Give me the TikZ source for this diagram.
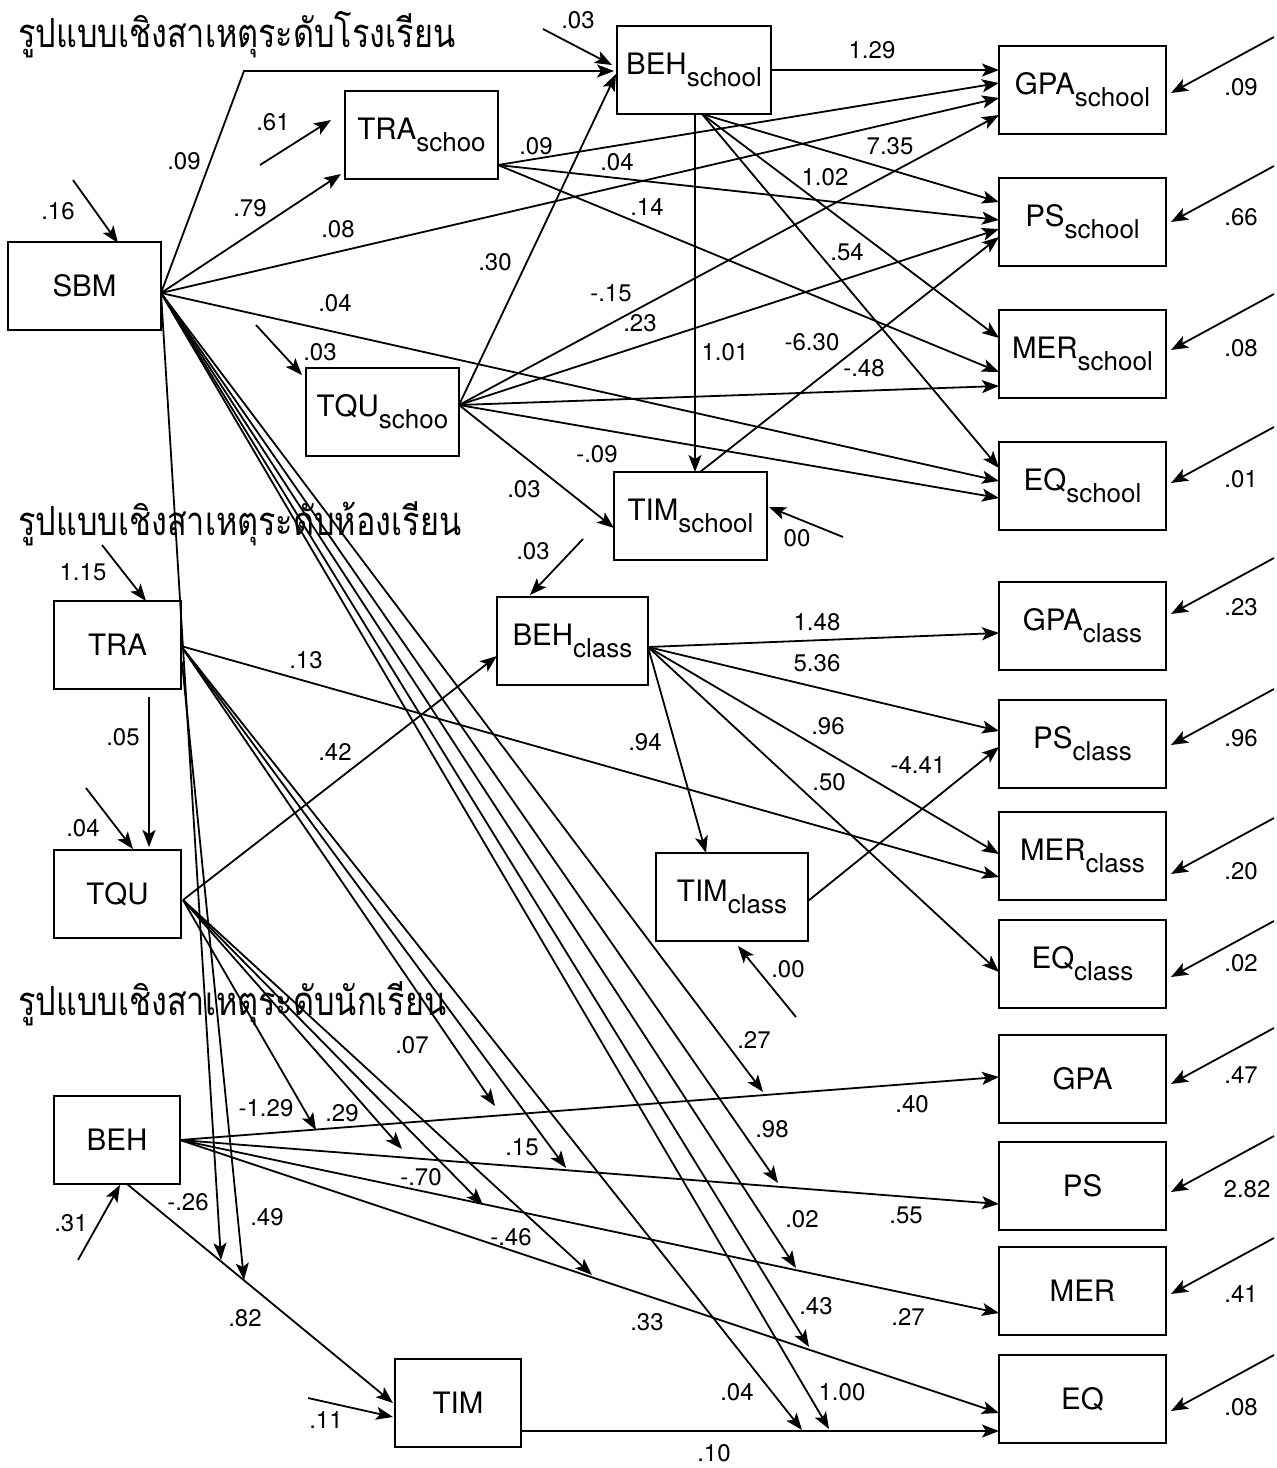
\documentclass[tikz,border=0pt]{standalone}
\usepackage{fontspec}
\setmainfont{TeX Gyre Heros}
\newfontfamily\thaifont[Script=Thai,FakeStretch=0.81]{Loma}
\usetikzlibrary{arrows.meta}
\newcommand{\mysub}[1]{\raisebox{-12pt}{\fontsize{26}{28}\selectfont #1}}
\begin{document}
\begin{tikzpicture}[x=1pt,y=-1pt,
  box/.style={draw,line width=2pt,minimum height=88pt,inner sep=0pt,font=\fontsize{29.5}{31}\selectfont},
  lbl/.style={font=\fontsize{24}{26}\selectfont,inner sep=0pt},
  arr/.style={line width=1.8pt,-{Stealth[length=17pt,width=13pt,inset=4pt]}},
  ttl/.style={font=\thaifont\fontsize{40}{44}\selectfont,anchor=base west,inner sep=0pt}]
\useasboundingbox (0,0) rectangle (1277,1468);
% titles
\node[ttl] (T1) at (18,47) {รูปแบบเชิงสาเหตุระดับโรงเรียน};
\node[ttl] (T2) at (18,535) {รูปแบบเชิงสาเหตุระดับห้องเรียน};
\node[ttl] (T3) at (18,1015) {รูปแบบเชิงสาเหตุระดับนักเรียน};
% boxes
\node[box,minimum width=153pt] (SBM) at (84.5,285.5) {SBM};
\node[box,minimum width=153pt] (TRAs) at (421.5,134.5) {TRA\mysub{schoo}};
\node[box,minimum width=154pt] (BEHs) at (694,70) {BEH\mysub{school}};
\node[box,minimum width=153pt] (TQUs) at (382.5,412) {TQU\mysub{schoo}};
\node[box,minimum width=153pt] (TIMs) at (690.5,516) {TIM\mysub{school}};
\node[box,minimum width=167pt] (GPAs) at (1082.5,90) {GPA\mysub{school}};
\node[box,minimum width=167pt] (PSs) at (1082.5,222) {PS\mysub{school}};
\node[box,minimum width=167pt] (MERs) at (1082.5,353.5) {MER\mysub{school}};
\node[box,minimum width=167pt] (EQs) at (1082.5,486) {EQ\mysub{school}};
\node[box,minimum width=127pt] (TRA) at (117.5,645) {TRA};
\node[box,minimum width=127pt] (TQU) at (117.5,894) {TQU};
\node[box,minimum width=151pt] (BEHc) at (572.5,641) {BEH\mysub{class}};
\node[box,minimum width=152pt] (TIMc) at (732,897) {TIM\mysub{class}};
\node[box,minimum width=167pt] (GPAc) at (1082.5,625.5) {GPA\mysub{class}};
\node[box,minimum width=167pt] (PSc) at (1082.5,744) {PS\mysub{class}};
\node[box,minimum width=167pt] (MERc) at (1082.5,855.5) {MER\mysub{class}};
\node[box,minimum width=167pt] (EQc) at (1082.5,963.5) {EQ\mysub{class}};
\node[box,minimum width=126pt] (BEH) at (117,1140) {BEH};
\node[box,minimum width=126pt] (TIM) at (458,1403) {TIM};
\node[box,minimum width=167pt] (GPA) at (1082.5,1078.5) {GPA};
\node[box,minimum width=167pt] (PS) at (1082.5,1185.5) {PS};
\node[box,minimum width=167pt] (MER) at (1082.5,1290.5) {MER};
\node[box,minimum width=167pt] (EQ) at (1082.5,1399) {EQ};
% out points
\coordinate (SBMo) at (161,293);
\coordinate (kink) at (244,71);
\coordinate (TRAso) at (498,165);
\coordinate (TQUso) at (459,405);
\coordinate (BEHsb) at (702,114);
\coordinate (BEHsv) at (695,114);
\coordinate (TIMsin) at (695,472);
\coordinate (TIMso) at (700,472);
\coordinate (BEHco) at (648,647);
\coordinate (TIMco) at (808,901);
\coordinate (TRAo) at (181,646);
\coordinate (TRAv) at (182,662);
\coordinate (TRAb) at (149,697);
\coordinate (TQUt) at (149,847);
\coordinate (TQUo) at (183,900);
\coordinate (BEHo) at (180,1140);
\coordinate (BEHb) at (127,1184);
\coordinate (TIMo) at (521,1431);
% end points
\coordinate (BEHsin1) at (614,71);
\coordinate (BEHsin2) at (616,74);
\coordinate (TRAsin) at (341,174);
\coordinate (TIMsin2) at (614,528);
\coordinate (g1) at (999,70);
\coordinate (g2) at (999,83);
\coordinate (g3) at (999,98);
\coordinate (g4) at (999,115);
\coordinate (p1) at (999,202);
\coordinate (p2) at (999,220);
\coordinate (p3) at (999,229);
\coordinate (p4) at (999,237);
\coordinate (r1) at (999,338);
\coordinate (r2) at (999,372);
\coordinate (r3) at (999,386);
\coordinate (e1) at (999,468);
\coordinate (e2) at (999,481);
\coordinate (e3) at (999,498);
\coordinate (cg) at (999,633);
\coordinate (cp1) at (999,731);
\coordinate (cp2) at (999,747);
\coordinate (cm1) at (999,854);
\coordinate (cm2) at (999,877);
\coordinate (ce) at (999,972);
\coordinate (TIMcin) at (706,853);
\coordinate (BEHcin) at (497,656);
\coordinate (sg) at (999,1077);
\coordinate (sp) at (999,1204);
\coordinate (sm) at (999,1313);
\coordinate (se) at (999,1413);
\coordinate (se2) at (999,1431);
\coordinate (TIMin) at (393,1403);
% moderator tips
\coordinate (tG1) at (316,1130);
\coordinate (tG2) at (495,1106);
\coordinate (tG3) at (763,1092);
\coordinate (tP1) at (402,1149);
\coordinate (tP2) at (566,1168);
\coordinate (tP3) at (778,1183);
\coordinate (tM1) at (483,1205);
\coordinate (tM2) at (796,1268);
\coordinate (tE1) at (592,1275);
\coordinate (tE2) at (809,1347);
\coordinate (tT1) at (802,1430);
\coordinate (tT2) at (829,1429);
\coordinate (tB1) at (221,1260);
\coordinate (tB2) at (244,1280);
% school connectors
\draw[arr] (SBMo) -- (kink) -- (BEHsin1);
\draw[arr] (SBMo) -- (TRAsin);
\draw[arr] (SBMo) -- (g3);
\draw[arr] (SBMo) -- (e2);
\draw[arr] (TRAso) -- (g2);
\draw[arr] (TRAso) -- (p2);
\draw[arr] (TRAso) -- (r2);
\draw[arr] (TQUso) -- (BEHsin2);
\draw[arr] (TQUso) -- (g4);
\draw[arr] (TQUso) -- (p3);
\draw[arr] (TQUso) -- (r3);
\draw[arr] (TQUso) -- (e3);
\draw[arr] (TQUso) -- (TIMsin2);
\draw[arr] (BEHs.east |- g1) -- (g1);
\draw[arr] (BEHsv) -- (TIMsin);
\draw[arr] (BEHsb) -- (p1);
\draw[arr] (BEHsb) -- (r1);
\draw[arr] (BEHsb) -- (e1);
\draw[arr] (TIMso) -- (p4);
% class connectors
\draw[arr] (BEHco) -- (cg);
\draw[arr] (BEHco) -- (cp1);
\draw[arr] (BEHco) -- (cm1);
\draw[arr] (BEHco) -- (ce);
\draw[arr] (BEHco) -- (TIMcin);
\draw[arr] (TIMco) -- (cp2);
\draw[arr] (TRAo) -- (cm2);
\draw[arr] (TRAb) -- (TQUt);
\draw[arr] (TQUo) -- (BEHcin);
% student connectors
\draw[arr] (BEHo) -- (sg);
\draw[arr] (BEHo) -- (sp);
\draw[arr] (BEHo) -- (sm);
\draw[arr] (BEHo) -- (se);
\draw[arr] (BEHb) -- (TIMin);
\draw[arr] (TIMo) -- (se2);
% moderators
\foreach \s/\t in {TQUo/tG1,TRAo/tG2,SBMo/tG3,TQUo/tP1,TRAo/tP2,SBMo/tP3,TQUo/tM1,SBMo/tM2,TQUo/tE1,SBMo/tE2,TRAo/tT1,SBMo/tT2,SBMo/tB1,TRAv/tB2}
  \draw[arr] (\s) -- (\t);
% error arrows
\foreach \n/\a/\b/\c/\d in {1/73/180/118/243, 2/260/165/331/120, 3/543/29/612/65, 4/256/325/302/375, 5/843/537/769/507, 6/583/539/530/595, 7/796/1017/738/946, 8/102/545/146/601, 9/86/788/133/849, 10/78/1260/120/1185, 11/308/1398/393/1417}
  {\coordinate (eS\n) at (\a,\b); \coordinate (eE\n) at (\c,\d); \draw[arr] (eS\n) -- (eE\n);}
\foreach \n/\t in {1/93,2/222,3/350,4/483,5/614,6/745,7/874,8/977,9/1084,10/1192,11/1294,12/1411}
  {\coordinate (rS\n) at (1274,\t-56); \coordinate (rE\n) at (1171,\t); \draw[arr] (rS\n) -- (rE\n);}
% labels
\foreach \n/\x/\y/\t in {
 1/58/211/.16, 2/184/161/.09, 3/250/208/.79, 4/273/122/.61, 5/338/229/.08, 6/335/303/.04,
 7/320/352/.03, 8/578/20/.03, 9/495/262/.30, 10/536/146/.09, 11/617/162/.04, 12/647/207/.14,
 13/872/50/1.29, 14/890/146/7.35, 15/825/177/1.02, 16/847/252/.54, 17/611/293/-.15, 18/640/323/.23,
 19/725/352/1.01, 20/812/342/-6.30, 21/864/368/-.48, 22/597/454/-.09, 23/524/489/.03, 24/797/538/00,
 25/533/551/.03, 26/83/572/1.15, 27/306/660/.13, 28/123/737/.05, 29/83/828/.04, 30/335/752/.42,
 31/817/622/1.48, 32/817/663/5.36, 33/828/726/.96, 34/829/782/.50, 35/645/742/.94, 36/918/765/-4.41,
 37/788/969/.00, 38/412/1045/.07, 39/754/1040/.27, 40/266/1108/-1.29, 41/342/1113/.29, 42/912/1104/.40,
 43/772/1129/.98, 44/522/1147/.15, 45/421/1177/-.70, 46/906/1215/.55, 47/188/1202/-.26, 48/267/1217/.49,
 49/511/1237/-.46, 50/802/1219/.02, 51/71/1223/.31, 52/245/1318/.82, 53/647/1322/.33, 54/816/1306/.43,
 55/908/1317/.27, 56/737/1392/.04, 57/842/1392/1.00, 58/326/1420/.11, 59/714/1453/.10,
 60/1241/87/.09, 61/1241/217/.66, 62/1241/348/.08, 63/1241/479/.01, 64/1241/607/.23, 65/1241/738/.96,
 66/1241/871/.20, 67/1241/963/.02, 68/1241/1075/.47, 69/1247/1189/2.82, 70/1241/1294/.41, 71/1241/1407/.08}
  \node[lbl] (L\n) at (\x,\y) {\t};
\end{tikzpicture}
\end{document}
